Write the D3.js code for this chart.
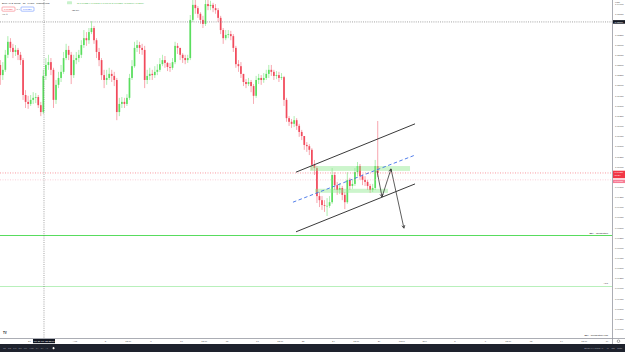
<!DOCTYPE html>
<html>
<head>
<meta charset="utf-8">
<script src="https://cdn.jsdelivr.net/npm/d3@7"></script>
<style>
html,body{margin:0;padding:0;background:#fff;}
svg{display:block;font-family:"Liberation Sans",Arial,sans-serif;}
</style>
</head>
<body>
<svg id="chart"></svg>
<script>
// EUR/USD 4h candles, Jul 25 -> Aug 26 2022 (6 per trading day)
const firstOpen = 1.0251;
const closes = [
  1.0226,1.0239,1.0276,1.0308,1.0293,1.0283,
  1.0288,1.0276,1.0263,1.0177,1.0160,1.0155,
  1.0165,1.0170,1.0172,1.0152,1.0135,1.0224,
  1.0251,1.0258,1.0239,1.0165,1.0202,1.0219,
  1.0234,1.0268,1.0288,1.0276,1.0226,1.0263,
  1.0268,1.0276,1.0300,1.0317,1.0312,1.0332,
  1.0342,1.0312,1.0283,1.0263,1.0226,1.0214,
  1.0219,1.0229,1.0224,1.0214,1.0135,1.0155,
  1.0160,1.0155,1.0170,1.0219,1.0248,1.0293,
  1.0300,1.0293,1.0288,1.0214,1.0224,1.0229,
  1.0226,1.0234,1.0239,1.0253,1.0263,1.0256,
  1.0246,1.0244,1.0258,1.0298,1.0293,1.0276,
  1.0268,1.0263,1.0268,1.0362,1.0399,1.0391,
  1.0377,1.0362,1.0352,1.0401,1.0396,1.0399,
  1.0391,1.0386,1.0367,1.0337,1.0317,1.0325,
  1.0327,1.0322,1.0293,1.0253,1.0248,1.0229,
  1.0209,1.0204,1.0209,1.0199,1.0175,1.0214,
  1.0219,1.0214,1.0219,1.0229,1.0239,1.0234,
  1.0224,1.0226,1.0219,1.0221,1.0165,1.0120,
  1.0111,1.0106,1.0115,1.0101,1.0086,1.0076,
  1.0054,1.0051,1.0042,1.0005,0.9997,0.9928,
  0.9918,0.9906,0.9904,0.9904,0.9913,0.9980,
  0.9955,0.9943,0.9948,0.9931,0.9913,0.9968,
  0.9953,0.9958,0.9987,1.0002,0.9977,0.9968,
  0.9963,0.9953,0.9943,0.9948,1.0002,0.9985
];
const highs = [
  1.0263,1.0258,1.0288,1.0322,1.0317,1.0303,
  1.0300,1.0293,1.0283,1.0268,1.0189,1.0175,
  1.0177,1.0184,1.0182,1.0177,1.0160,1.0239,
  1.0268,1.0276,1.0268,1.0244,1.0214,1.0234,
  1.0251,1.0283,1.0303,1.0298,1.0283,1.0276,
  1.0283,1.0288,1.0312,1.0337,1.0332,1.0342,
  1.0359,1.0347,1.0317,1.0293,1.0268,1.0239,
  1.0239,1.0244,1.0239,1.0234,1.0219,1.0170,
  1.0172,1.0170,1.0179,1.0229,1.0263,1.0308,
  1.0312,1.0308,1.0303,1.0298,1.0239,1.0244,
  1.0239,1.0248,1.0253,1.0268,1.0276,1.0273,
  1.0258,1.0256,1.0268,1.0308,1.0305,1.0293,
  1.0280,1.0276,1.0276,1.0374,1.0411,1.0411,
  1.0396,1.0381,1.0372,1.0418,1.0411,1.0409,
  1.0404,1.0401,1.0391,1.0372,1.0342,1.0337,
  1.0337,1.0335,1.0327,1.0298,1.0263,1.0258,
  1.0229,1.0216,1.0219,1.0214,1.0204,1.0224,
  1.0229,1.0226,1.0231,1.0239,1.0251,1.0251,
  1.0239,1.0236,1.0234,1.0231,1.0224,1.0170,
  1.0125,1.0118,1.0125,1.0120,1.0106,1.0091,
  1.0071,1.0061,1.0056,1.0046,1.0017,1.0002,
  0.9938,0.9928,0.9918,0.9923,0.9928,0.9997,
  0.9987,0.9963,0.9960,0.9953,0.9938,0.9987,
  0.9973,0.9970,0.9997,1.0012,1.0007,0.9982,
  0.9977,0.9968,0.9958,0.9958,1.0017,1.0113
];
const lows = [
  1.0202,1.0214,1.0234,1.0268,1.0283,1.0268,
  1.0273,1.0263,1.0251,1.0165,1.0145,1.0143,
  1.0150,1.0155,1.0157,1.0145,1.0125,1.0130,
  1.0214,1.0239,1.0226,1.0145,1.0155,1.0194,
  1.0209,1.0229,1.0263,1.0263,1.0204,1.0219,
  1.0253,1.0258,1.0268,1.0293,1.0298,1.0303,
  1.0327,1.0303,1.0268,1.0248,1.0214,1.0194,
  1.0202,1.0214,1.0209,1.0199,1.0115,1.0125,
  1.0145,1.0145,1.0150,1.0165,1.0214,1.0244,
  1.0283,1.0278,1.0276,1.0194,1.0204,1.0214,
  1.0214,1.0219,1.0226,1.0234,1.0248,1.0244,
  1.0236,1.0234,1.0239,1.0253,1.0278,1.0263,
  1.0256,1.0253,1.0256,1.0263,1.0357,1.0377,
  1.0367,1.0352,1.0342,1.0347,1.0386,1.0386,
  1.0381,1.0377,1.0357,1.0327,1.0303,1.0312,
  1.0317,1.0312,1.0283,1.0244,1.0234,1.0219,
  1.0199,1.0194,1.0199,1.0184,1.0155,1.0170,
  1.0204,1.0202,1.0207,1.0214,1.0219,1.0224,
  1.0214,1.0216,1.0209,1.0214,1.0150,1.0111,
  1.0101,1.0096,1.0098,1.0091,1.0074,1.0066,
  1.0042,1.0037,1.0029,0.9992,0.9980,0.9911,
  0.9901,0.9894,0.9889,0.9879,0.9899,0.9909,
  0.9943,0.9931,0.9933,0.9918,0.9896,0.9909,
  0.9943,0.9946,0.9953,0.9977,0.9968,0.9955,
  0.9953,0.9943,0.9936,0.9938,0.9943,0.9975
];

// time axis: [trading day index, label]
const timeTicks = [
  [2,"27"],[5,"Aug"],[7,"3"],[8.5,"12:00"],[10,"8"],[12,"10"],[13.5,"12:00"],
  [15,"15"],[17,"17"],[18.5,"12:00"],[20,"22"],[22,"24"],[23.5,"12:00"],
  [25,"29"],[26.5,"12:00"],[28,"Sep"],[30,"5"],[32,"7"],[33.5,"12:00"],
  [35,"12"],[37,"14"],[38.5,"12:00"],[40,"19"]
];
const priceTickStep = 0.0025;

// drawings, in [day index, price]
const channelUpper = [[19.54,0.9987],[27.37,1.0106]];
const channelLower = [[19.54,0.9840],[27.37,0.9958]];
const channelMid = [[19.34,0.9913],[27.37,1.0029]];
const zones = [[20.46,27.04,1.0002,0.9990],[20.79,25.59,0.9946,0.9936]];
const arrowPath = [[24.87,0.9990],[25.20,0.9926],[25.79,0.9995],[26.64,0.9849]];
const levelPrices = [0.9831,0.9707,0.9580];
const levelNames = ["BD* - Congestion","ALP","BD* - Congestion Low"];
const crosshair = [2.96,1.0357];
const crosshairTime = "We 27 Jul '22  23:00";
const askPrice = 0.9968;

const W = 625, H = 352;
const PLOT_R = 612, PLOT_B = 338;
const FONT = 2.4;

const svg = d3.select("#chart").attr("width",W).attr("height",H);
svg.append("rect").attr("width",W).attr("height",H).attr("fill","#fff");

const x = d3.scaleLinear().domain([0,40]).range([-1,607]);
const pTop = 1.0411, pxPerUnit = 10.15/priceTickStep;
const y = d3.scaleLinear().domain([pTop - PLOT_B/pxPerUnit, pTop]).range([PLOT_B,0]);

svg.append("clipPath").attr("id","plot").append("rect")
  .attr("width",PLOT_R).attr("height",PLOT_B);
const plot = svg.append("g").attr("clip-path","url(#plot)");

// horizontal levels (under candles)
const levelColors = ["#58dc5e","#b0eeb3","#b0eeb3"];
levelPrices.forEach((p,i)=>{
  if(i<2){
    plot.append("line").attr("x1",0).attr("x2",PLOT_R)
      .attr("y1",Math.round(y(p))+0.5).attr("y2",Math.round(y(p))+0.5)
      .style("stroke",levelColors[i]).style("stroke-width",i==0?1.2:0.9);
  }
  plot.append("text").attr("x",PLOT_R-4).attr("y",y(p)-1.6)
    .attr("text-anchor","end").attr("font-size",FONT).attr("fill","#222")
    .text(levelNames[i]);
});

// candles
const candles = closes.map((c,i)=>{
  const o = i==0 ? firstOpen : closes[i-1];
  return {t:i/6+1/12, o:o, c:c, h:Math.max(highs[i],o,c), l:Math.min(lows[i],o,c)};
});
const UP = "#5ade5e", DOWN = "#f14a5c";
const cg = plot.append("g");
cg.selectAll("line").data(candles).join("line")
  .attr("x1",d=>x(d.t)).attr("x2",d=>x(d.t))
  .attr("y1",d=>y(d.h)).attr("y2",d=>y(d.l))
  .attr("stroke",d=>d.c>=d.o?UP:DOWN).attr("stroke-width",0.7).attr("opacity",0.7);
cg.selectAll("rect").data(candles).join("rect")
  .attr("x",d=>x(d.t)-0.85).attr("width",1.7)
  .attr("y",d=>y(Math.max(d.o,d.c)))
  .attr("height",d=>Math.max(0.6,Math.abs(y(d.o)-y(d.c))))
  .attr("fill",d=>d.c>=d.o?UP:DOWN);

// zones
plot.selectAll(".zone").data(zones).join("rect").attr("class","zone")
  .attr("x",d=>x(d[0])).attr("width",d=>x(d[1])-x(d[0]))
  .attr("y",d=>y(d[2])).attr("height",d=>y(d[3])-y(d[2]))
  .attr("fill","#8ee88e").attr("opacity",0.45);

// channel
const line = d3.line().x(d=>x(d[0])).y(d=>y(d[1]));
[channelUpper,channelLower].forEach(pts=>{
  plot.append("path").attr("d",line(pts)).attr("fill","none")
    .attr("stroke","#222").attr("stroke-width",0.9);
});
plot.append("path").attr("d",line(channelMid)).attr("fill","none")
  .attr("stroke","#3d6fe8").attr("stroke-width",0.9).attr("stroke-dasharray","3.5,2.5");

// arrows
for(let i=0;i<arrowPath.length-1;i++){
  const a = arrowPath[i], b = arrowPath[i+1];
  const x1=x(a[0]), y1=y(a[1]), x2=x(b[0]), y2=y(b[1]);
  plot.append("line").attr("x1",x1).attr("y1",y1).attr("x2",x2).attr("y2",y2)
    .attr("stroke","#333").attr("stroke-width",0.8);
  const ang = Math.atan2(y2-y1,x2-x1), len = 3.2, spread = 0.5;
  const head = [[x2-len*Math.cos(ang-spread), y2-len*Math.sin(ang-spread)],[x2,y2],
                [x2-len*Math.cos(ang+spread), y2-len*Math.sin(ang+spread)]];
  plot.append("path").attr("d",d3.line()(head)).attr("fill","none")
    .attr("stroke","#333").attr("stroke-width",0.8);
}

// price lines
const lastClose = closes[closes.length-1];
plot.append("line").attr("x1",0).attr("x2",PLOT_R).attr("y1",y(lastClose)).attr("y2",y(lastClose))
  .attr("stroke","#f23645").attr("stroke-width",0.5).attr("stroke-dasharray","1,1.5");
plot.append("line").attr("x1",0).attr("x2",PLOT_R).attr("y1",y(askPrice)).attr("y2",y(askPrice))
  .attr("stroke","#f7a1b4").attr("stroke-width",0.5).attr("stroke-dasharray","1,1.5");

// crosshair
plot.append("line").attr("x1",x(crosshair[0])).attr("x2",x(crosshair[0])).attr("y1",0).attr("y2",PLOT_B)
  .attr("stroke","#666").attr("stroke-width",0.6).attr("stroke-dasharray","1,1.2");
plot.append("line").attr("x1",0).attr("x2",PLOT_R).attr("y1",y(crosshair[1])).attr("y2",y(crosshair[1]))
  .attr("stroke","#666").attr("stroke-width",0.6).attr("stroke-dasharray","1,1.2");

// price axis
svg.append("line").attr("x1",PLOT_R+0.5).attr("x2",PLOT_R+0.5).attr("y1",0).attr("y2",344)
  .attr("stroke","#9598a1").attr("stroke-width",0.8);
const fmt = d3.format(".5f");
const busy = [y(crosshair[1]), y(lastClose)+2, y(askPrice)+1];
const ticks = d3.range(Math.ceil(y.domain()[0]/priceTickStep), Math.floor(pTop/priceTickStep)+1)
  .map(n=>n*priceTickStep)
  .filter(p=>busy.every(b=>Math.abs(y(p)-b)>4));
svg.append("g").selectAll("text").data(ticks).join("text")
  .attr("x",615).attr("y",d=>y(d)+0.8).attr("font-size",FONT).attr("fill","#555")
  .text(d=>fmt(d));
svg.append("text").attr("x",615).attr("y",2.6).attr("font-size",FONT).attr("fill","#666").text("USD");

function axisTag(py,h,fill,color,lines){
  svg.append("rect").attr("x",PLOT_R+1).attr("y",py-h/2).attr("width",W-PLOT_R-1).attr("height",h).attr("fill",fill);
  lines.forEach((t,i)=>svg.append("text").attr("x",614.5).attr("y",py-h/2+2.6+i*2.8)
    .attr("font-size",FONT).attr("fill",color).text(t));
}
axisTag(y(lastClose)+1.5,7.5,"#f23645","#fff",[fmt(lastClose),"00:34"]);
axisTag(y(askPrice)+1.5,3.4,"#f77c95","#fff",[fmt(askPrice)]);
axisTag(y(crosshair[1]),3.6,"#131722","#fff",[fmt(crosshair[1])]);

// time axis
svg.append("line").attr("x1",0).attr("x2",W).attr("y1",PLOT_B+0.5).attr("y2",PLOT_B+0.5)
  .attr("stroke","#9598a1").attr("stroke-width",0.8);
svg.append("g").selectAll("text").data(timeTicks).join("text")
  .attr("x",d=>x(d[0])).attr("y",342.4).attr("text-anchor","middle")
  .attr("font-size",FONT).attr("fill","#555").text(d=>d[1]);
const cx = x(crosshair[0]);
svg.append("rect").attr("x",cx-11).attr("y",339).attr("width",22).attr("height",4.2).attr("fill","#131722");
svg.append("text").attr("x",cx).attr("y",342.1).attr("text-anchor","middle")
  .attr("font-size",FONT).attr("fill","#fff").text(crosshairTime);
svg.append("circle").attr("cx",618.5).attr("cy",341.2).attr("r",1.3)
  .attr("fill","none").attr("stroke","#555").attr("stroke-width",0.5);

// bottom toolbar
svg.append("rect").attr("x",0).attr("y",344).attr("width",W).attr("height",8).attr("fill","#1e222d");
svg.append("text").attr("x",3).attr("y",348.8).attr("font-size",FONT).attr("fill","#9598a1")
  .attr("xml:space","preserve").text("1D   5D   1M   3M   6M   YTD   1Y   5Y   All      ⌚");
svg.append("text").attr("x",622).attr("y",348.8).attr("text-anchor","end").attr("font-size",FONT)
  .attr("fill","#b2b5be").attr("xml:space","preserve").text("20:59:44 (UTC+4)     %    log    auto");

// legend top-left
const lg = svg.append("g").attr("font-size",FONT);
lg.append("text").attr("x",2).attr("y",3.6).attr("fill","#131722")
  .text("Euro / U.S. Dollar · 1h · FXCM · TradingView");
lg.append("rect").attr("x",67).attr("y",1.3).attr("width",5).attr("height",3).attr("rx",0.6)
  .attr("fill","#c9f2cc");
lg.append("text").attr("x",77).attr("y",3.6).attr("fill","#3bb33b")
  .text("O 0.99652  H 0.99860  L 0.99640  C 0.99850  +0.00198 (+0.20%)");
lg.append("rect").attr("x",2).attr("y",7).attr("width",13).attr("height",4.2).attr("rx",0.8)
  .attr("fill","#fff").attr("stroke","#f23645").attr("stroke-width",0.4);
lg.append("text").attr("x",4).attr("y",9.9).attr("fill","#f23645").text(fmt(lastClose));
lg.append("text").attr("x",16.5).attr("y",9.9).attr("fill","#555").text("0.4");
lg.append("rect").attr("x",21).attr("y",7).attr("width",13).attr("height",4.2).attr("rx",0.8)
  .attr("fill","#fff").attr("stroke","#2962ff").attr("stroke-width",0.4);
lg.append("text").attr("x",23).attr("y",9.9).attr("fill","#2962ff").text("0.99854");
lg.append("text").attr("x",2).attr("y",15).attr("fill","#555").text("Vol  ⊘");
lg.append("text").attr("x",72).attr("y",10.6).attr("fill","#131722").text("Ign R4");

// logo
svg.append("text").attr("x",3).attr("y",334).attr("font-size",3).attr("font-weight","bold")
  .attr("fill","#131722").text("TV");
</script>
</body>
</html>
